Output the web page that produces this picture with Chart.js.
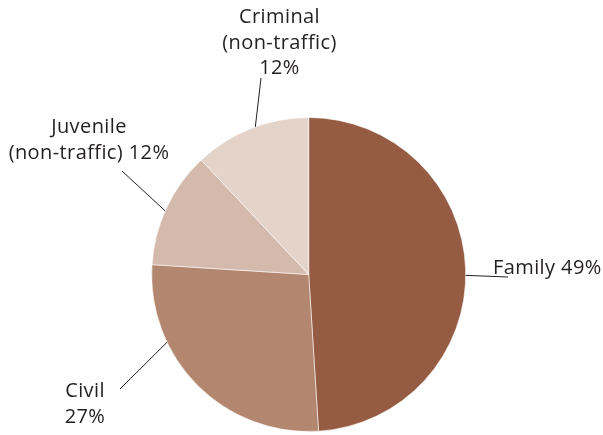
<!DOCTYPE html>
<html>
<head>
<meta charset="utf-8">
<title>Caseload by case type</title>
<script src="https://cdn.jsdelivr.net/npm/chart.js@4.4.1/dist/chart.umd.min.js"></script>
<style>
  html, body { margin: 0; padding: 0; background: #fff; }
  #wrap { width: 603px; height: 435px; position: relative; }
</style>
</head>
<body>
<div id="wrap"><canvas id="caseChart" width="603" height="435"></canvas></div>
<script>
// case types, clockwise from 12 o'clock
const categories = ['Family', 'Civil', 'Juvenile (non-traffic)', 'Criminal (non-traffic)'];
const shares = [49, 27, 12, 12];
const sliceColors = ['#965c43', '#b3876f', '#d4baad', '#e3d3c9'];

// how each callout is written and where it sits
const calloutLines = [
  ['Family 49%'],
  ['Civil', '27%'],
  ['Juvenile', '(non-traffic) 12%'],
  ['Criminal', '(non-traffic)', '12%']
];
const calloutLayout = [
  { x: 493, y: 274, align: 'left', lineEnd: [508, 277], along: 0.512 },
  { x: 85, y: 397, align: 'center', lineEnd: [120, 389], along: 0.70 },
  { x: 89, y: 133, align: 'center', lineEnd: [122, 171], along: 0.47 },
  { x: 279.5, y: 23, align: 'center', lineEnd: [261, 78], along: 0.54 }
];

const textColor = '#231f20';
const lineGap = 25.5;

// leader lines + labels, anchored on the arcs the controller laid out
const callouts = {
  id: 'callouts',
  afterDatasetsDraw(chart) {
    const { ctx } = chart;
    const arcs = chart.getDatasetMeta(0).data;
    ctx.save();
    ctx.strokeStyle = textColor;
    ctx.lineWidth = 1;
    ctx.fillStyle = textColor;
    ctx.font = '20px "Open Sans"';
    ctx.letterSpacing = '0.4px';
    ctx.textBaseline = 'alphabetic';
    arcs.forEach((arc, i) => {
      const lay = calloutLayout[i];
      const a = arc.startAngle + lay.along * (arc.endAngle - arc.startAngle);
      const px = arc.x + Math.cos(a) * arc.outerRadius;
      const py = arc.y + Math.sin(a) * arc.outerRadius;
      ctx.beginPath();
      ctx.moveTo(px, py);
      ctx.lineTo(lay.lineEnd[0], lay.lineEnd[1]);
      ctx.stroke();

      ctx.textAlign = lay.align;
      calloutLines[i].forEach((txt, j) => {
        ctx.fillText(txt, lay.x, lay.y + j * lineGap);
      });
    });
    ctx.restore();
  }
};

new Chart(document.getElementById('caseChart'), {
  type: 'pie',
  data: {
    labels: categories,
    datasets: [{
      data: shares,
      backgroundColor: sliceColors,
      borderColor: 'rgba(255,255,255,0.55)',
      borderWidth: 1
    }]
  },
  options: {
    responsive: false,
    animation: false,
    layout: { padding: { left: 151.2, top: 117, right: 136.8, bottom: 3 } },
    plugins: {
      legend: { display: false },
      tooltip: { enabled: false }
    }
  },
  plugins: [callouts]
});
</script>
</body>
</html>
